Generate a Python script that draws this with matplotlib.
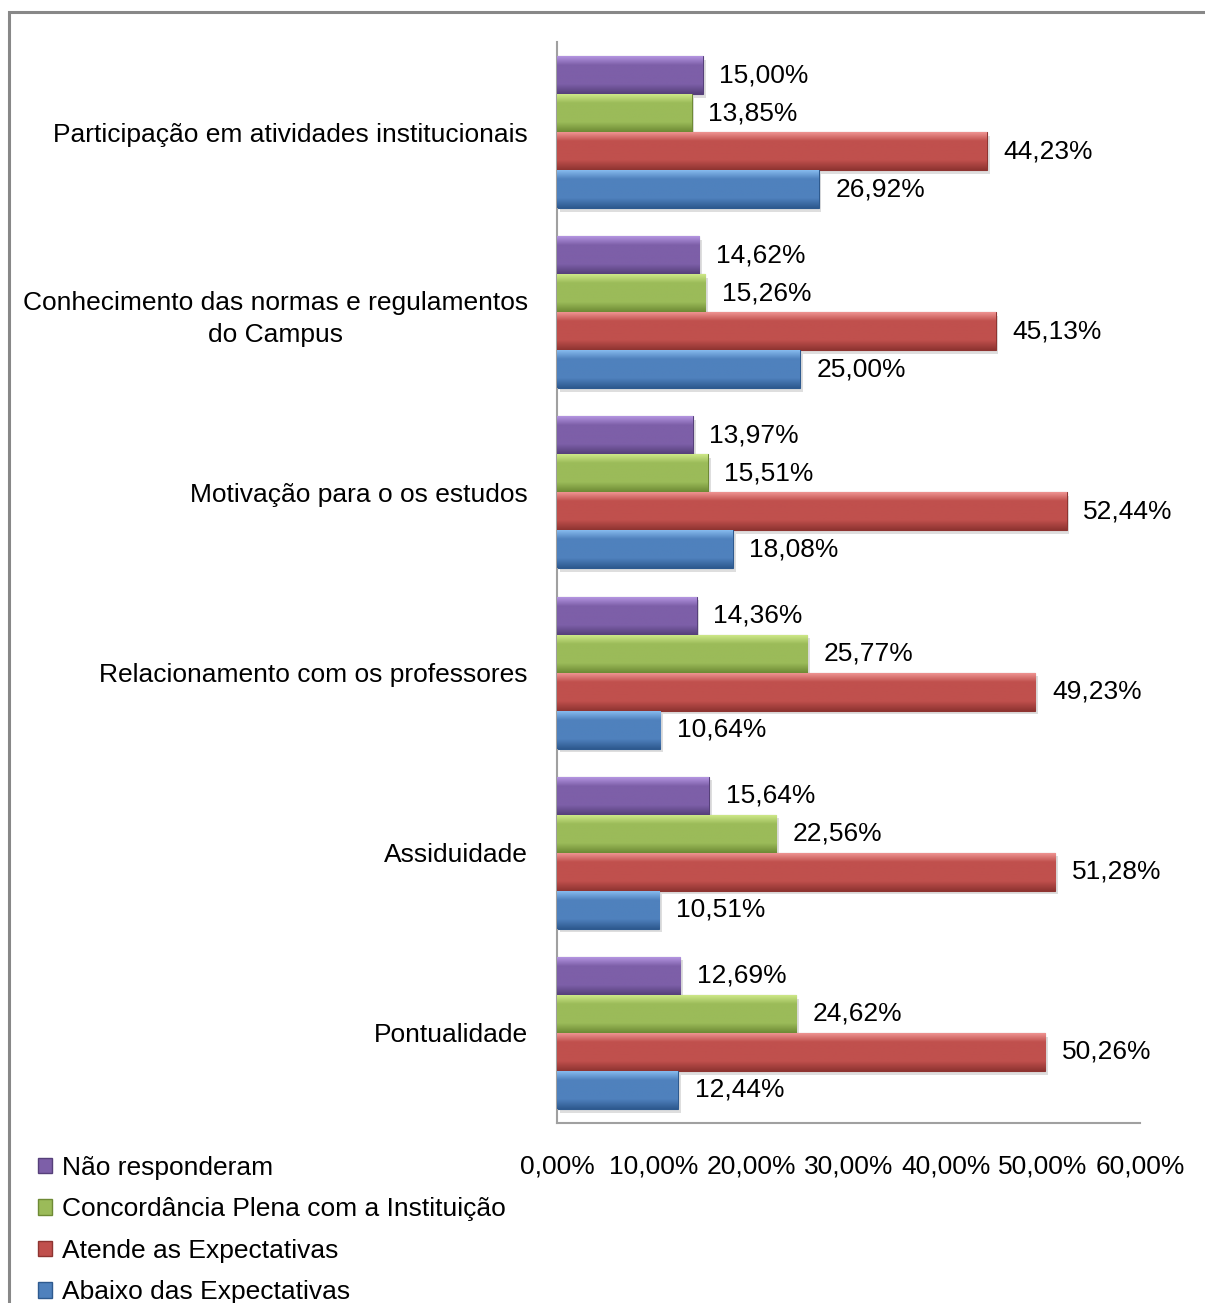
import numpy as np
import matplotlib
matplotlib.use("Agg")
import matplotlib.pyplot as plt
from matplotlib.patches import Rectangle, Patch
from matplotlib.colors import LinearSegmentedColormap

categories = [
    "Participação em atividades institucionais",
    "Conhecimento das normas e regulamentos\ndo Campus",
    "Motivação para o os estudos",
    "Relacionamento com os professores",
    "Assiduidade",
    "Pontualidade",
]
series = [
    "Não responderam",
    "Concordância Plena com a Instituição",
    "Atende as Expectativas",
    "Abaixo das Expectativas",
]
nao_responderam = [15.00, 14.62, 13.97, 14.36, 15.64, 12.69]
concordancia = [13.85, 15.26, 15.51, 25.77, 22.56, 24.62]
atende = [44.23, 45.13, 52.44, 49.23, 51.28, 50.26]
abaixo = [26.92, 25.00, 18.08, 10.64, 10.51, 12.44]
xticks = [0, 10, 20, 30, 40, 50, 60]

# (light top, mid, dark bottom) per series
shades = [
    ("#b99ae6", "#7d5fa8", "#56407a"),
    ("#d2ec8c", "#9bbb59", "#6e8a35"),
    ("#f39a98", "#c0504d", "#8e3431"),
    ("#8cc0f2", "#4f81bd", "#2e5a8f"),
]

plt.rcParams["font.family"] = ["Liberation Sans", "DejaVu Sans"]
FS = 19


def pct(v):
    return f"{v:.2f}".replace(".", ",") + "%"


fig = plt.figure(figsize=(12.05, 13.03), dpi=100)
ax = fig.add_axes([557 / 1205, 1 - 1123 / 1303, 583 / 1205, (1123 - 42) / 1303])

h = 0.211
y = np.arange(len(categories))
values = [nao_responderam, concordancia, atende, abaixo]
grad = np.linspace(0, 1, 64).reshape(-1, 1)

for k, (vals, (lt, md, dk)) in enumerate(zip(values, shades)):
    offs = (k - 1.5) * h
    # soft shadow
    ax.barh(y + offs + 0.02, vals, height=h, left=0.3, color="#000000",
            alpha=0.13, zorder=1)
    bars = ax.barh(y + offs, vals, height=h, color=md, edgecolor=dk,
                   linewidth=0.8, zorder=2)
    cmap = LinearSegmentedColormap.from_list(
        f"g{k}", [(0, lt), (0.25, md), (0.75, md), (1, dk)])
    for b, v in zip(bars, vals):
        x0, y0 = b.get_x(), b.get_y()
        im = ax.imshow(grad, cmap=cmap, aspect="auto", zorder=3,
                       extent=(x0, x0 + b.get_width(), y0 + b.get_height(), y0))
        im.set_clip_path(b)
        ax.annotate(pct(v), (v, y0 + b.get_height() / 2), xytext=(12, 0),
                    textcoords="offset points", va="center", ha="left",
                    fontsize=FS, color="#000000")

ax.set_ylim(len(categories) - 0.5, -0.5)
ax.set_xlim(0, 60)
ax.set_xticks(xticks)
ax.set_xticklabels([pct(t) for t in xticks])
ax.set_yticks(y)
ax.set_yticklabels(categories, ha="right", multialignment="center",
                   linespacing=1.45)
ax.tick_params(axis="both", length=0, labelsize=FS)
ax.tick_params(axis="x", pad=23)
ax.tick_params(axis="y", pad=21)
for s in ("top", "right"):
    ax.spines[s].set_visible(False)
for s in ("left", "bottom"):
    ax.spines[s].set_color("#a0a0a0")
    ax.spines[s].set_linewidth(1.5)

handles = [Patch(facecolor=md, edgecolor=dk) for (lt, md, dk) in shades]
fig.legend(handles, series, loc="upper left",
           bbox_to_anchor=(38 / 1205, 1 - 1156 / 1303), frameon=False,
           fontsize=FS, handlelength=0.53, handleheight=0.53,
           handletextpad=0.38, labelspacing=0.66, borderpad=0, borderaxespad=0)

# outer chart-area border
fig.add_artist(Rectangle((9 / 1205, -0.05), 1.1, 1 - 12 / 1303 + 0.05,
                         transform=fig.transFigure, fill=False,
                         edgecolor="#888888", linewidth=2.2, clip_on=False))

fig.savefig("out.png", dpi=100)
